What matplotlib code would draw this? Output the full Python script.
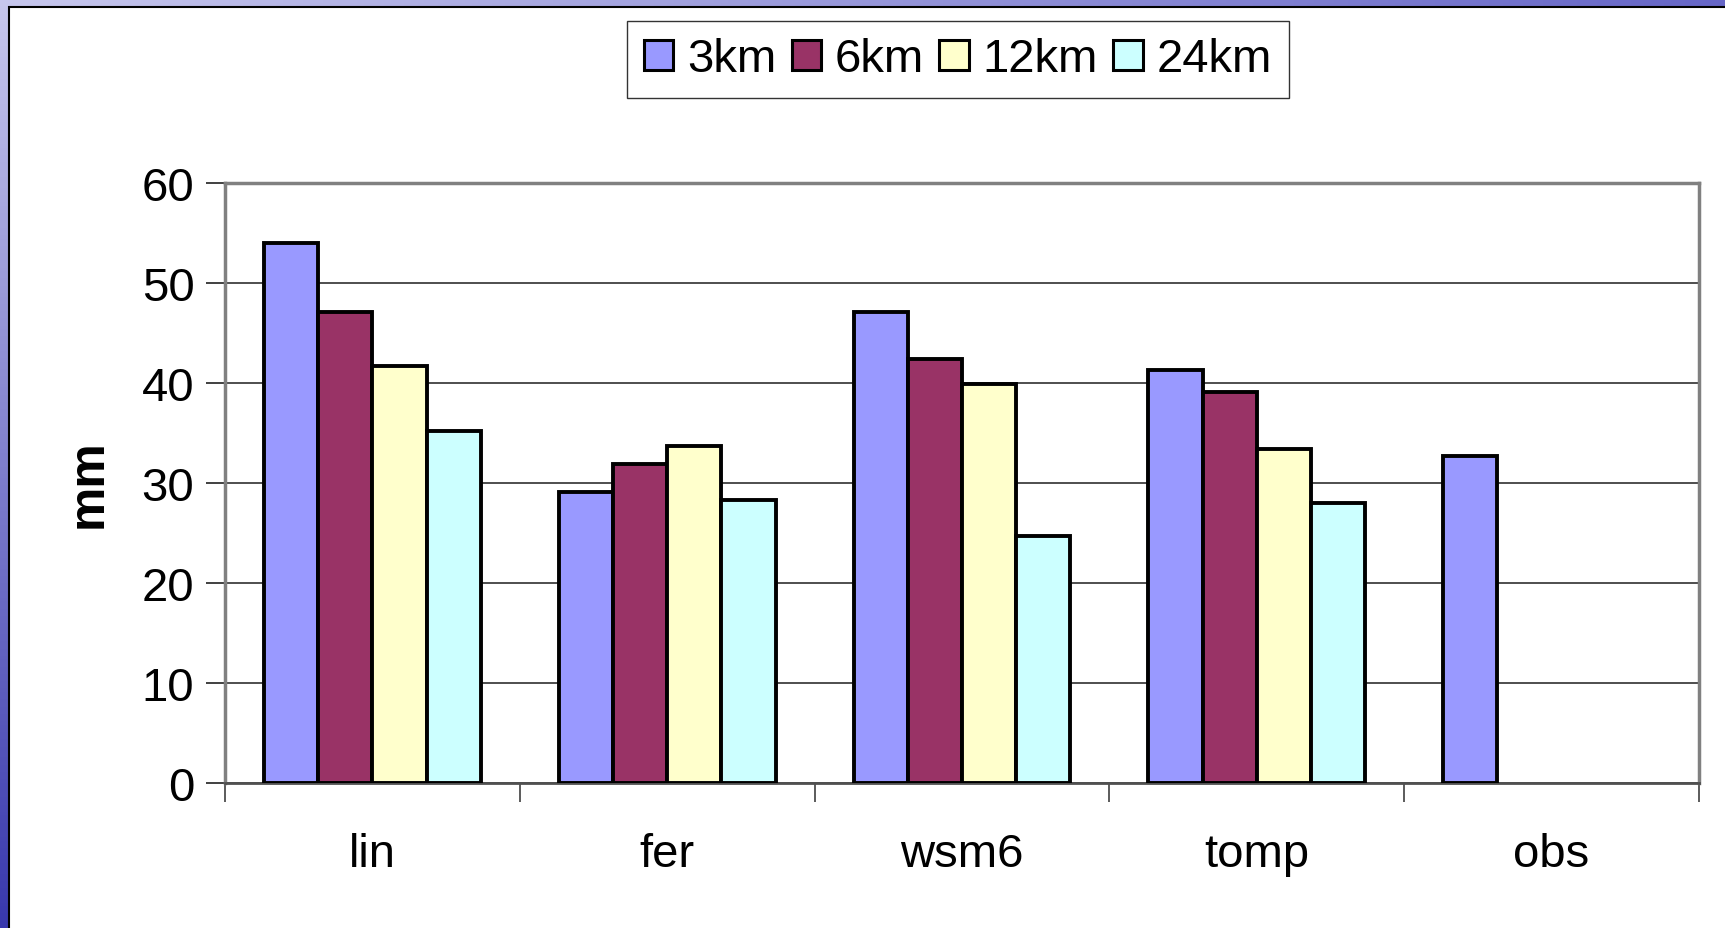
import numpy as np
import matplotlib
matplotlib.use("Agg")
import matplotlib.pyplot as plt
from matplotlib.patches import Rectangle

categories = ["lin", "fer", "wsm6", "tomp", "obs"]
series_names = ["3km", "6km", "12km", "24km"]
v_3km = [54.0, 29.1, 47.1, 41.3, 32.7]
v_6km = [47.1, 31.9, 42.4, 39.1, np.nan]
v_12km = [41.7, 33.7, 39.9, 33.4, np.nan]
v_24km = [35.2, 28.3, 24.7, 28.0, np.nan]
yticks = [0, 10, 20, 30, 40, 50, 60]
colors = ["#9999FF", "#993366", "#FFFFCC", "#CCFFFF"]

plt.rcParams['font.family'] = ['Liberation Sans', 'DejaVu Sans']

W, H = 1725, 929
fig = plt.figure(figsize=(W / 100, H / 100), dpi=100)

# background gradient (blue frame)
bg = fig.add_axes([0, 0, 1, 1], zorder=-10)
n = 256
yy, xx = np.mgrid[0:n, 0:n] / (n - 1)
c_tl = np.array([0.78, 0.78, 0.93])
c_tr = np.array([0.40, 0.40, 0.78])
c_bl = np.array([0.22, 0.22, 0.68])
img = (c_tl[None, None, :] * ((1 - xx) * (1 - yy))[..., None]
       + c_tr[None, None, :] * (xx * (1 - yy))[..., None]
       + c_bl[None, None, :] * (yy)[..., None])
img = np.clip(img, 0, 1)
bg.imshow(img, aspect='auto', extent=[0, 1, 0, 1], origin='upper')
bg.add_patch(Rectangle((9 / W, -0.01), 1.01, 1 - 8 / H + 0.01, facecolor='white',
                       edgecolor='black', linewidth=1.5))
bg.set_xlim(0, 1)
bg.set_ylim(0, 1)
bg.axis('off')

ax = fig.add_axes([225 / W, (H - 784) / H, (1699 - 225) / W, (784 - 184) / H])
ax.set_facecolor('white')

data = [v_3km, v_6km, v_12km, v_24km]
x = np.arange(len(categories))
bw = 0.184
for k, (vals, name, col) in enumerate(zip(data, series_names, colors)):
    offs = (k - 1.5) * bw
    ax.bar(x + offs, vals, width=bw, color=col, edgecolor='black', linewidth=2.8,
           label=name, zorder=3)

ax.set_xlim(-0.5, len(categories) - 0.5)
ax.set_ylim(0, 60)
ax.set_yticks(yticks)
ax.set_yticklabels([str(t) for t in yticks], fontsize=34)
ax.set_xticks(x)
ax.set_xticklabels(categories, fontsize=34)
ax.set_xticks(np.arange(-0.5, len(categories), 1.0), minor=True)
ax.tick_params(axis='x', which='major', length=0, pad=35)
ax.tick_params(axis='x', which='minor', length=14, width=1.2, direction='out', color='#404040')
ax.tick_params(axis='y', which='major', length=14, width=1.2, direction='out', pad=8, color='#202020')
ax.yaxis.grid(True, color='#303030', linewidth=1.2, zorder=0)
ax.set_axisbelow(True)
for s in ['top', 'right', 'left']:
    ax.spines[s].set_color('#808080')
    ax.spines[s].set_linewidth(2.5)
ax.spines['bottom'].set_color('#505050')
ax.spines['bottom'].set_linewidth(2.0)

ax.set_ylabel("mm", fontsize=36, fontweight='bold', labelpad=22)

leg = fig.legend(loc='center', bbox_to_anchor=(958 / W, 1 - 60.5 / H), ncol=4,
                 fontsize=34, frameon=True, fancybox=False, edgecolor='black',
                 handlelength=0.62, handleheight=0.62, handletextpad=0.3,
                 columnspacing=0.32, borderpad=0.35, borderaxespad=0)
leg.get_frame().set_linewidth(1.0)
for h in leg.legend_handles:
    h.set_linewidth(2.2)

fig.savefig("out.png", dpi=100)
